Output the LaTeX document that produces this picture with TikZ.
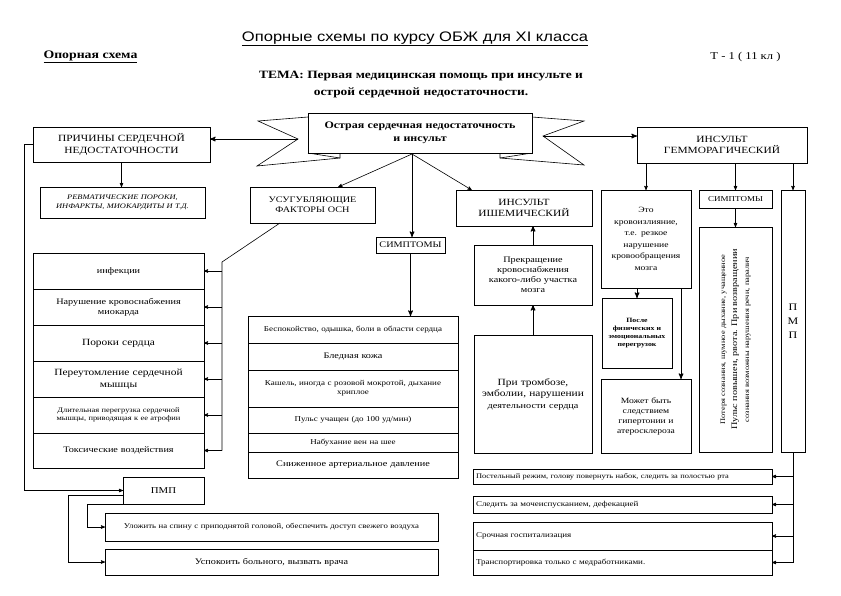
\documentclass[tikz,border=0pt]{standalone}
\usepackage{fontspec}
\setmainfont{Liberation Serif}[FakeStretch=1.2]
\newfontfamily\headfont{Liberation Sans}[FakeStretch=1.2]
\usetikzlibrary{positioning, arrows}
\tikzset{
	>=stealth', % filled arrow heads
	box/.style={draw, line width=0.6pt, rectangle, align=center, inner xsep=3pt, inner ysep=1pt, outer sep=0pt, anchor=north west}, % every frame
	heavy/.style={line width=0.9pt}, % frames of the two main branches
	link/.style={->, line width=0.6pt}, % thin connector
	trunk/.style={->, line width=1pt}, % thick connector
	big text/.style={font=\fontsize{9.5}{11.5}\selectfont},
	mid text/.style={font=\fontsize{8.5}{10}\selectfont},
	small text/.style={font=\fontsize{7.5}{9}\selectfont},
	tiny text/.style={font=\fontsize{6.5}{8}\selectfont},
}

\begin{document}
\begin{tikzpicture}[x=1pt, y=-1pt]
	\useasboundingbox (0,0) rectangle (841,595);
	% heading
	\node[font=\headfont\fontsize{13.8}{15}\selectfont] (course) at (415,39) {\underline{Опорные схемы по курсу ОБЖ для XI класса}};
	\node[anchor=west, font=\bfseries\fontsize{11.5}{13}\selectfont] (kind) at (40,57) {\underline{Опорная схема}};
	\node[anchor=east, font=\fontsize{10.5}{12}\selectfont] (code) at (784,57) {Т - 1 ( 11 кл )};
	\node[align=center, font=\bfseries\fontsize{11.2}{17}\selectfont] (theme) at (421,84) {ТЕМА: Первая медицинская помощь при инсульте и\\ острой сердечной недостаточности.};

	% ribbon
	\coordinate (lnotch) at (298,139);
	\coordinate (rnotch) at (543,136);
	\filldraw[fill=white, line width=0.6pt] (308,117) -- (258,121) -- (lnotch) -- (257,166) -- (340,158) -- (340,150);
	\draw[line width=0.6pt] (308,153) -- (340,158);
	\filldraw[fill=white, line width=0.6pt] (532,117) -- (584,121) -- (rnotch) -- (584,165) -- (500,158) -- (500,150);
	\draw[line width=0.6pt] (532,153) -- (500,158);
	\node[box, anchor=center, fill=white, text width=218pt, minimum height=40pt, font=\bfseries\fontsize{10}{13}\selectfont] (acute) at (420,133) {Острая сердечная недостаточность\\ и инсульт};
	\coordinate (fan) at (412,154);

	% heart failure branch
	\node[box, heavy, big text, text width=171pt, minimum height=35pt] (prich) at (33,127) {ПРИЧИНЫ СЕРДЕЧНОЙ\\ НЕДОСТАТОЧНОСТИ};
	\node[box, font=\itshape\fontsize{7}{9}\selectfont, text width=159pt, minimum height=31pt] (revm) at (40,187) {РЕВМАТИЧЕСКИЕ ПОРОКИ,\\ ИНФАРКТЫ, МИОКАРДИТЫ И Т.Д.};
	\node[box, mid text, text width=119pt, minimum height=36pt] (usug) at (250,187) {УСУГУБЛЯЮЩИЕ\\ ФАКТОРЫ ОСН};
	\node[box, mid text, text width=63pt, minimum height=16pt] (symp) at (376,237) {СИМПТОМЫ};

	\node[box, mid text, text width=165pt, minimum height=36pt] (f1) at (33,253) {инфекции};
	\node[box, mid text, text width=165pt, minimum height=36pt, below=0pt of f1] (f2) {Нарушение кровоснабжения\\ миокарда};
	\node[box, big text, text width=165pt, minimum height=36pt, below=0pt of f2] (f3) {Пороки сердца};
	\node[box, big text, text width=165pt, minimum height=36pt, below=0pt of f3] (f4) {Переутомление сердечной\\ мышцы};
	\node[box, font=\fontsize{7}{8.5}\selectfont, text width=165pt, minimum height=36pt, below=0pt of f4] (f5) {Длительная перегрузка сердечной\\ мышцы, приводящая к ее атрофии};
	\node[box, mid text, text width=165pt, minimum height=35pt, below=0pt of f5] (f6) {Токсические воздействия};

	\node[box, small text, anchor=north, text width=204pt, minimum height=27pt] (s1) at (353,316) {Беспокойство, одышка, боли в области сердца};
	\node[box, mid text, text width=204pt, minimum height=27pt, below=0pt of s1] (s2) {Бледная кожа};
	\node[box, small text, text width=204pt, minimum height=37pt, below=0pt of s2] (s3) {Кашель, иногда с розовой мокротой, дыхание\\ хриплое};
	\node[box, small text, text width=204pt, minimum height=26pt, below=0pt of s3] (s4) {Пульс учащен (до 100 уд/мин)};
	\node[box, small text, text width=204pt, minimum height=19pt, below=0pt of s4] (s5) {Набухание вен на шее};
	\node[box, mid text, text width=204pt, minimum height=26pt, below=0pt of s5] (s6) {Сниженное артериальное давление};

	% ischemic stroke
	\node[box, big text, text width=130pt, minimum height=36pt] (isch) at (456,190) {ИНСУЛЬТ\\ ИШЕМИЧЕСКИЙ};
	\node[box, mid text, text width=112pt, minimum height=60pt] (prek) at (474,245) {Прекращение\\ кровоснабжения\\ какого-либо участка\\ мозга};
	\node[box, big text, text width=112pt, minimum height=118pt] (thromb) at (474,335) {При тромбозе,\\ эмболии, нарушении\\ {\fontsize{8.5}{10}\selectfont деятельности сердца}};

	% haemorrhagic stroke
	\node[box, heavy, big text, text width=164pt, minimum height=36pt] (gem) at (637,127) {ИНСУЛЬТ\\ ГЕММОРАГИЧЕСКИЙ};
	\node[box, font=\fontsize{8}{11.5}\selectfont, text width=84pt, minimum height=98pt] (eto) at (601,190) {Это\\ кровоизлияние,\\ т.е. резкое\\ нарушение\\ кровообращения\\ мозга};
	\node[box, font=\bfseries\fontsize{6.5}{8}\selectfont, text width=64pt, minimum height=70pt] (posle) at (602,298) {После\\ физических и\\ эмоциональных\\ перегрузок};
	\node[box, font=\fontsize{8}{10}\selectfont, text width=84pt, minimum height=74pt] (mozh) at (601,379) {Может быть\\ следствием\\ гипертонии и\\ атеросклероза};
	\node[box, small text, text width=67pt, minimum height=18pt] (hsym) at (699,190) {СИМПТОМЫ};
	\node[box, anchor=center, rotate=90, font=\fontsize{7}{12}\selectfont, text width=219pt, minimum height=73pt] (hsyx) at (735.5,339.5) {Потеря сознания, шумное дыхание, учащенное\\ {\fontsize{8.5}{12}\selectfont Пульс повышен, рвота. При возвращении}\\ сознания возможны нарушения речи, паралич};
	\node[box, line width=0.8pt, font=\fontsize{10}{14}\selectfont, text width=20pt, minimum height=262pt, inner xsep=2pt] (pmpv) at (781,190) {П\\ М\\ П};

	% first aid
	\node[box, font=\fontsize{9}{11}\selectfont, text width=75pt, minimum height=27pt] (pmp) at (123,477) {ПМП};
	\node[box, font=\fontsize{7.3}{9}\selectfont, text width=327pt, minimum height=28pt] (lay) at (105,513) {Уложить на спину с приподнятой головой, обеспечить доступ свежего воздуха};
	\node[box, mid text, text width=327pt, minimum height=26pt] (calm) at (105,549) {Успокоить больного, вызвать врача};
	\node[box, font=\fontsize{7}{9}\selectfont, align=left, text width=293pt, minimum height=15pt] (bed) at (473,469) {Постельный режим, голову повернуть набок, следить за полостью рта};
	\node[box, small text, align=left, text width=293pt, minimum height=17pt] (urine) at (473,496) {Следить за мочеиспусканием, дефекацией};
	\node[box, small text, align=left, text width=293pt, minimum height=28pt] (hosp) at (473,522) {Срочная госпитализация};
	\node[box, small text, align=left, text width=293pt, minimum height=25pt, below=0pt of hosp] (trans) {Транспортировка только с медработниками.};

	% connectors
	\draw[trunk] (lnotch) -- (lnotch -| prich.east);
	\draw[trunk] (rnotch) -- (rnotch -| gem.west);
	\draw[link] (fan) -- (usug.35);
	\draw[link] (fan) -- (isch.161);
	\draw[trunk] (fan) -- (fan |- symp.north);
	\draw[trunk] (symp.south) -- (symp.south |- s1.north);
	\draw[link] (prich.south) -- (prich.south |- revm.north);
	\draw[link] (prich.west) -- ++(-9,0) |- (pmp.west);

	\coordinate (bus) at (222,262);
	\draw[line width=0.6pt] ([xshift=30pt]usug.south west) -- (bus) -- (bus |- f6.east);
	\foreach \i in {1,...,6}
		\draw[link] (bus |- f\i.east) -- (f\i.east);

	\draw[trunk] (prek.north) -- (prek.north |- isch.south);
	\draw[trunk] (thromb.north) -- (prek.south);

	\draw[link] (gem.south -| eto.north) -- (eto.north);
	\draw[link] (gem.south -| hsym.north) -- (hsym.north);
	\draw[link] (gem.south -| pmpv.north) -- (pmpv.north);
	\draw[link] (hsym.south) -- (hsyx.east);
	\draw[trunk] (eto.south -| posle.north) -- (posle.north);
	\draw[trunk] ([xshift=-10pt]eto.south east) -- ([xshift=-10pt]mozh.north east);

	\draw[line width=0.6pt] (pmpv.south) -- (pmpv.south |- trans.east);
	\foreach \b in {bed, urine, hosp, trans}
		\draw[link] (pmpv.south |- \b.east) -- (\b.east);

	\draw[link] (pmp.south west) -- ++(-36,0) |- (lay.west);
	\draw[link] ([yshift=-5pt]pmp.west) -- ++(-55,0) |- (calm.west);
\end{tikzpicture}
\end{document}
